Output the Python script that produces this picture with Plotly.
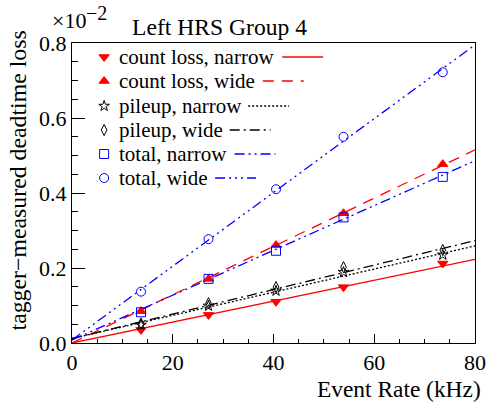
import plotly.graph_objects as go

# ---------------- data (values in units of 1e-2) ----------------
rate = [13.7, 27.1, 40.5, 53.9, 73.6]
count_loss_narrow = [0.035, 0.075, 0.110, 0.149, 0.212]
count_loss_wide = [0.085, 0.171, 0.261, 0.346, 0.477]
pileup_narrow = [0.048, 0.099, 0.139, 0.189, 0.235]
pileup_wide = [0.052, 0.106, 0.149, 0.202, 0.248]
total_narrow = [0.082, 0.171, 0.246, 0.335, 0.443]
total_wide = [0.137, 0.277, 0.410, 0.550, 0.722]

# linear fits: value at the ends of the x range
fit_x = [0, 80]
fit_count_loss_narrow = [0.000, 0.223]
fit_count_loss_wide = [0.000, 0.515]
fit_pileup_narrow = [0.012, 0.259]
fit_pileup_wide = [0.012, 0.273]
fit_total_narrow = [0.008, 0.486]
fit_total_wide = [0.008, 0.795]

labels = ["count loss, narrow", "count loss, wide", "pileup, narrow",
          "pileup, wide", "total, narrow", "total, wide"]

RED = "#ff0000"
BLUE = "#0000ff"
BLK = "#000000"
FONT = "Times New Roman, Liberation Serif, DejaVu Serif, serif"

series = [
    (count_loss_narrow, fit_count_loss_narrow, RED, "triangle-down", 9, "solid"),
    (count_loss_wide, fit_count_loss_wide, RED, "triangle-up", 9, "11px,8px"),
    (pileup_narrow, fit_pileup_narrow, BLK, "star-open", 8, "2px,2px"),
    (pileup_wide, fit_pileup_wide, BLK, "diamond-tall-open", 8, "10px,4px,2px,4px"),
    (total_narrow, fit_total_narrow, BLUE, "square-open", 9, "10px,4px,2px,4px,2px,4px"),
    (total_wide, fit_total_wide, BLUE, "circle-open", 9, "10px,4px,2px,4px,2px,4px,2px,4px"),
]

fig = go.Figure()

for vals, fit, col, sym, sz, dash in series:
    fig.add_trace(go.Scatter(x=fit_x, y=fit, mode="lines",
                             line=dict(color=col, width=1.3, dash=dash),
                             showlegend=False, hoverinfo="skip"))
for vals, fit, col, sym, sz, dash in series:
    fig.add_trace(go.Scatter(x=rate, y=vals, mode="markers",
                             marker=dict(symbol=sym, size=sz, color=col,
                                         line=dict(color=col, width=1)),
                             showlegend=False))

# ---------------- hand-made ROOT-style legend (pixel frame axes) ----------------
leg_rows = [57, 81, 106, 130, 154, 178]
leg_marker_x = 105
leg_text_x = 118
leg_line_start = [288, 268, 253, 234, 239, 219]
leg_line_len = 42

for (vals, fit, col, sym, sz, dash), ry, lbl, lx in zip(series, leg_rows, labels, leg_line_start):
    fig.add_trace(go.Scatter(x=[leg_marker_x], y=[ry], mode="markers",
                             xaxis="x2", yaxis="y2",
                             marker=dict(symbol=sym, size=sz, color=col,
                                         line=dict(color=col, width=1)),
                             showlegend=False, hoverinfo="skip"))
    fig.add_annotation(x=leg_text_x, y=ry, xref="x2", yref="y2", text=lbl,
                       showarrow=False, xanchor="left", yanchor="middle",
                       font=dict(family=FONT, size=21, color="black"))
    fig.add_shape(type="line", xref="x2", yref="y2",
                  x0=lx, x1=lx + leg_line_len, y0=ry, y1=ry,
                  line=dict(color=col, width=1.3, dash=dash))


def px(x):
    return (x - 72) / 414.0


def py(y):
    return (343 - y) / 300.0


# ---------------- texts ----------------
fig.add_annotation(x=px(224), y=py(27), xref="paper", yref="paper", text="Left HRS Group 4",
                   showarrow=False, xanchor="center", yanchor="middle",
                   font=dict(family=FONT, size=23.6, color="black"))
fig.add_annotation(x=px(49), y=py(20), xref="paper", yref="paper", text="×10",
                   showarrow=False, xanchor="left", yanchor="middle",
                   font=dict(family=FONT, size=22, color="black"))
fig.add_annotation(x=px(84), y=py(0), xref="paper", yref="paper", text="−2",
                   showarrow=False, xanchor="left", yanchor="top",
                   font=dict(family=FONT, size=20, color="black"))
fig.add_annotation(x=px(494), y=py(389), xref="paper", yref="paper", text="Event Rate (kHz)",
                   showarrow=False, xanchor="right", yanchor="middle",
                   font=dict(family=FONT, size=23.4, color="black"))
fig.add_annotation(x=px(17), y=py(180), xref="paper", yref="paper",
                   text="tagger−measured deadtime loss", textangle=-90,
                   showarrow=False, xanchor="center", yanchor="middle",
                   font=dict(family=FONT, size=23.8, color="black"))

fig.update_layout(
    width=498, height=402,
    margin=dict(l=72, r=12, t=43, b=59),
    paper_bgcolor="white", plot_bgcolor="white",
    font=dict(family=FONT, color="black"),
    xaxis=dict(range=[0, 80], dtick=20, tick0=0, ticks="inside", ticklen=9,
               tickwidth=1, tickcolor="black", showgrid=False, zeroline=False,
               showline=True, linecolor="black", linewidth=1, mirror=True,
               tickfont=dict(family=FONT, size=22),
               minor=dict(dtick=5, ticks="inside", ticklen=4.5, tickcolor="black",
                          showgrid=False)),
    yaxis=dict(range=[0, 0.8], dtick=0.2, tick0=0, tickformat=".1f",
               ticks="inside", ticklen=13, tickwidth=1, tickcolor="black",
               showgrid=False, zeroline=False, showline=True, linecolor="black",
               linewidth=1, mirror=True, tickfont=dict(family=FONT, size=22),
               minor=dict(dtick=0.05, ticks="inside", ticklen=6, tickcolor="black",
                          showgrid=False)),
    xaxis2=dict(range=[72, 486], overlaying="x", visible=False, fixedrange=True),
    yaxis2=dict(range=[343, 43], overlaying="y", visible=False, fixedrange=True),
)

fig.write_html("out.html", config={"displayModeBar": False},
               post_script="document.body.style.margin='0';document.body.style.padding='0';")
